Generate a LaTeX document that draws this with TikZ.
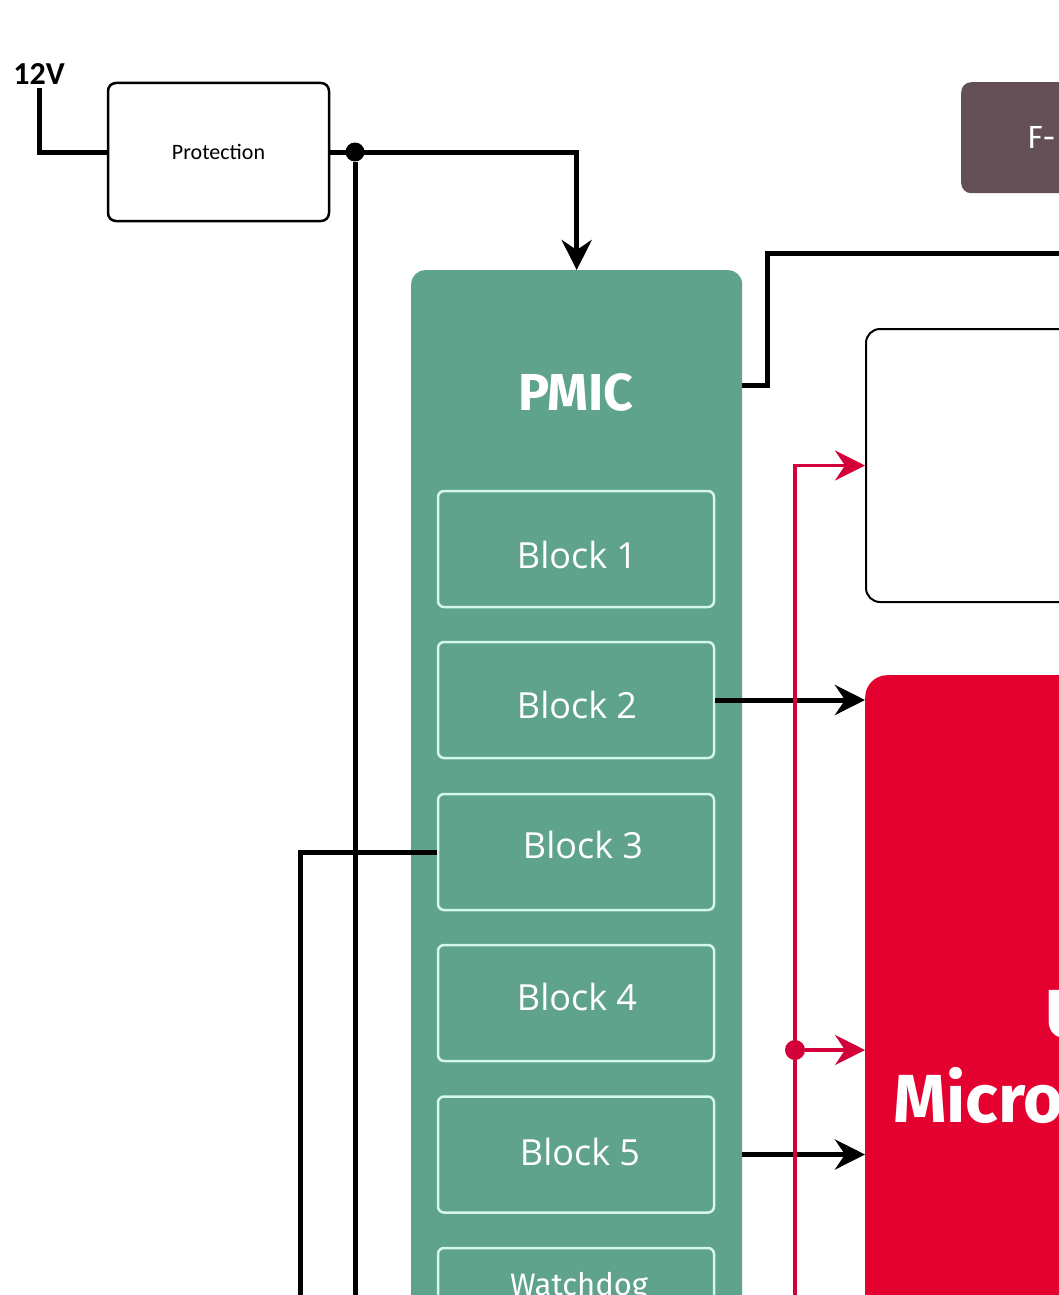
\documentclass[tikz,border=0pt]{standalone}
\usepackage{fontspec}
\setmainfont{Carlito}
\newfontfamily\blockfont{Open Sans}
\newfontfamily\headfont{Fira Sans}
\usetikzlibrary{arrows.meta,positioning}

\definecolor{pmicgreen}{HTML}{5FA38C}
\definecolor{blockline}{HTML}{D4F7EA}
\definecolor{mcured}{HTML}{E4002F}
\definecolor{redwire}{HTML}{D3003A}
\definecolor{fusebrown}{HTML}{634F55}

\tikzset{
  wire/.style={line width=5pt},
  redline/.style={line width=3.5pt,draw=redwire},
  arrowhead/.style={-{Stealth[length=30pt,width=30pt,inset=10pt]}},
  blockbox/.style={draw=blockline,line width=2.5pt,rounded corners=6pt,
    minimum width=276pt,minimum height=116pt,inner sep=0pt},
  blocktext/.style={text=white,font=\blockfont\fontsize{36}{40}\selectfont},
  dot/.style={circle,inner sep=0pt,minimum size=19pt}
}

\begin{document}
\begin{tikzpicture}[x=1pt,y=-1pt]
  \useasboundingbox (0,0) rectangle (1059,1295);
  \clip (0,0) rectangle (1059,1295);
  \fill[white] (0,0) rectangle (1059,1295);
  % input side
  \node[font=\bfseries\fontsize{32}{36}\selectfont] (vin) at (39,74) {12V};
  \node[draw,line width=2.5pt,rounded corners=8pt,minimum width=221pt,
    minimum height=138pt,font=\fontsize{22}{26}\selectfont] (prot) at (218.5,152) {Protection};
  % boxes
  \node[fill=pmicgreen,rounded corners=14pt,minimum width=331pt,minimum height=1100pt,
    anchor=north west,inner sep=0pt] (pmic) at (411,270) {};
  \node[text=white,font=\headfont\bfseries\fontsize{52}{60}\selectfont,anchor=base] (pmiclabel) at (576,410) {PMIC};
  \node[fill=fusebrown,rounded corners=10pt,minimum width=200pt,minimum height=111pt,
    anchor=north west,inner sep=0pt] (fuse) at (961,82) {};
  \node[text=white,font=\headfont\fontsize{32}{36}\selectfont,anchor=west,inner sep=0pt] (fuselabel) at (1027,137) {F-};
  \node[draw,line width=2pt,rounded corners=14pt,minimum width=300pt,minimum height=273pt,
    anchor=north west,inner sep=0pt] (aux) at (865,328) {};
  \node[fill=mcured,rounded corners=22pt,minimum width=300pt,minimum height=700pt,
    anchor=north west,inner sep=0pt] (mcu) at (865,675) {};
  \node[text=white,font=\headfont\bfseries\fontsize{68}{76}\selectfont,anchor=base west,inner sep=0pt] (mcutop) at (1045,1037) {U};
  \node[text=white,font=\headfont\bfseries\fontsize{68}{76}\selectfont,anchor=base west,inner sep=0pt] (mculabel) at (893,1122) {Micro};
  % PMIC blocks
  \foreach \i/\y/\tx/\ty in {1/549/577/555, 2/700/577/705, 3/852/583/845, 4/1003/577/997, 5/1154.5/580/1152} {
    \node[blockbox] (b\i) at (576,\y) {};
    \node[blocktext] (bt\i) at (\tx,\ty) {Block \i};
  }
  \node[blockbox] (b6) at (576,1306) {};
  \node[text=white,font=\headfont\fontsize{31}{36}\selectfont,anchor=base] (bt6) at (579,1295) {Watchdog};
  % free ends
  \coordinate (railA) at (355,1310);
  \coordinate (railB) at (300,1310);
  \coordinate (redend) at (795,1310);
  \coordinate (pmicout) at (742,385);
  \coordinate (fuseline) at (1070,253);
  % black wires
  \draw[wire] (vin.south) |- (prot.west);
  \draw[wire,arrowhead] (prot.east) -| (pmic.north);
  \node[dot,fill=black] (split) at (355,152) {};
  \draw[wire] (split) -- (railA);
  \draw[wire] (b3.west) -| (railB);
  \draw[wire] (pmicout) -- ++(25,0) |- (fuseline);
  \draw[wire,arrowhead] (b2.east) -- (b2.east -| mcu.west);
  \draw[wire,arrowhead] (b5.east -| pmic.east) -- (b5.east -| mcu.west);
  % red wires
  \draw[redline,arrowhead] (redend) |- (aux.west);
  \node[dot,fill=redwire,minimum size=20pt] (rdot) at (795,1050) {};
  \draw[redline,arrowhead] (rdot) -- (rdot -| mcu.west);
\end{tikzpicture}
\end{document}
